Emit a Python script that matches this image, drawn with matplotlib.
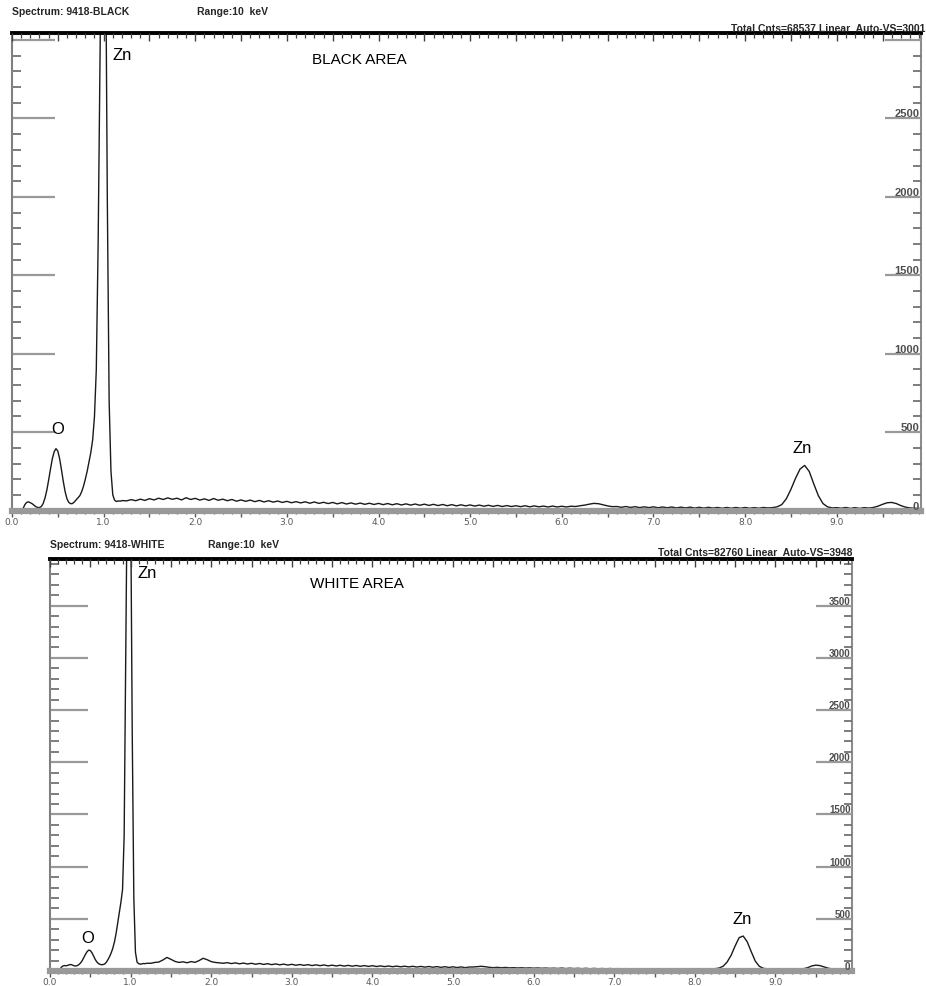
import numpy as np
import matplotlib
matplotlib.use("Agg")
import matplotlib.pyplot as plt
from matplotlib import font_manager
from matplotlib.ticker import MultipleLocator, FuncFormatter
from matplotlib.transforms import blended_transform_factory

# EDS spectra, counts per channel
# 0.02 keV channels from 0.10 keV, then 0.05 keV channels from 1.25 keV
LOW_START, LOW_STEP = 0.10, 0.02
HIGH_START, HIGH_STEP = 1.25, 0.05

black_low = [0, 12, 38, 52, 56, 50, 44, 34, 25, 20,
             19, 26, 45, 80, 130, 195, 265, 330, 375, 395,
             380, 330, 260, 185, 120, 75, 52, 44, 45, 55,
             68, 80, 95, 120, 155, 200, 250, 310, 370, 450,
             600, 900, 1700, 2900, 3900, 4500, 3800, 2000, 700, 250,
             100, 66, 58, 62, 60, 64]
black_high = [62, 70, 63, 73, 65, 76, 68, 79, 71, 81,
              72, 79, 68, 82, 71, 78, 67, 75, 65, 77,
              66, 73, 63, 71, 60, 68, 59, 67, 57, 65,
              55, 63, 54, 61, 52, 59, 50, 57, 49, 56,
              47, 55, 46, 53, 45, 52, 43, 51, 42, 49,
              41, 48, 40, 47, 39, 46, 38, 45, 37, 44,
              36, 43, 35, 42, 34, 41, 33, 40, 32, 39,
              31, 38, 30, 37, 30, 36, 29, 35, 28, 34,
              27, 33, 26, 32, 26, 31, 25, 31, 24, 30,
              24, 29, 23, 29, 23, 28, 23, 28, 26, 31,
              35, 41, 46, 44, 37, 30, 25, 26, 21, 26,
              20, 25, 19, 24, 19, 24, 18, 23, 18, 23,
              17, 22, 17, 22, 16, 21, 16, 21, 16, 20,
              15, 20, 15, 20, 15, 20, 15, 19, 15, 20,
              17, 19, 24, 38, 75, 135, 205, 265, 288, 250,
              170, 95, 45, 24, 17, 19, 15, 20, 14, 19,
              14, 19, 16, 20, 28, 40, 50, 52, 45, 32,
              22, 17, 15, 14]

white_low = [0, 12, 35, 48, 52, 50, 54, 60, 62, 56,
             50, 48, 52, 62, 78, 100, 130, 160, 185, 200,
             196, 175, 145, 112, 88, 72, 64, 60, 62, 68,
             85, 110, 140, 175, 220, 280, 360, 460, 560, 660,
             780, 1300, 3000, 4800, 5600, 4600, 2300, 700, 180, 85,
             70, 66, 68, 72, 70, 74]
white_high = [74, 82, 86, 105, 130, 112, 92, 82, 88, 79,
              90, 83, 100, 122, 108, 90, 82, 78, 74, 80,
              71, 78, 69, 76, 67, 74, 65, 72, 63, 70,
              61, 68, 59, 66, 57, 64, 55, 62, 54, 61,
              52, 59, 51, 58, 49, 56, 48, 55, 47, 54,
              46, 53, 45, 52, 44, 51, 43, 49, 42, 48,
              41, 47, 40, 46, 39, 45, 38, 44, 37, 43,
              36, 42, 35, 41, 34, 40, 33, 39, 32, 38,
              38, 42, 45, 41, 35, 32, 35, 31, 34, 30,
              32, 29, 31, 28, 30, 27, 29, 26, 28, 25,
              27, 24, 28, 23, 27, 23, 26, 22, 26, 21,
              25, 21, 24, 20, 24, 20, 23, 19, 23, 19,
              22, 18, 22, 18, 21, 17, 21, 17, 20, 17,
              20, 16, 20, 16, 19, 16, 19, 16, 18, 20,
              22, 28, 45, 85, 150, 240, 320, 335, 280, 185,
              95, 45, 26, 20, 17, 19, 15, 19, 15, 18,
              15, 18, 22, 32, 48, 56, 52, 40, 28, 20,
              17, 15, 14, 12]

black_ylabels = [0, 500, 1000, 1500, 2000, 2500]
white_ylabels = [0, 500, 1000, 1500, 2000, 2500, 3000, 3500]
xlabels = [0, 1, 2, 3, 4, 5, 6, 7, 8, 9]

names = {f.name for f in font_manager.fontManager.ttflist}
SANS = "Liberation Sans" if "Liberation Sans" in names else "DejaVu Sans"


def spectrum(low, high):
    e = np.concatenate([LOW_START + LOW_STEP * np.arange(len(low)),
                        HIGH_START + HIGH_STEP * np.arange(len(high))])
    return e, np.concatenate([low, high])


fig = plt.figure(figsize=(9.26, 9.87), dpi=100)
W, H = 926.0, 987.0


def panel(px_left, px_right, px_top, px_bottom, low, high, xmax, ymax, ylabels,
          long_left, long_right, ylab_size):
    ax = fig.add_axes([px_left / W, 1 - px_bottom / H,
                       (px_right - px_left) / W, (px_bottom - px_top) / H])
    e, c = spectrum(low, high)
    ax.plot(e, c, color="0.1", lw=1.0)
    ax.set_xlim(0, xmax)
    ax.set_ylim(0, ymax)

    ax.spines["top"].set_linewidth(2.8)
    ax.spines["top"].set_color("black")
    ax.spines["bottom"].set_linewidth(4.5)
    ax.spines["bottom"].set_color("0.6")
    ax.spines["left"].set_linewidth(1.5)
    ax.spines["left"].set_color("0.5")
    ax.spines["right"].set_linewidth(1.5)
    ax.spines["right"].set_color("0.55")

    # bottom ticks + labels
    ax.xaxis.set_major_locator(MultipleLocator(0.5))
    ax.xaxis.set_minor_locator(MultipleLocator(0.1))
    ax.xaxis.set_major_formatter(FuncFormatter(
        lambda v, p: "%.1f" % v if abs(v - round(v)) < 1e-6 and round(v) in xlabels else ""))
    ax.tick_params(axis="x", which="major", direction="out", length=4, width=1.0,
                   color="0.35", pad=0.5, labelsize=6.5, labelcolor="0.35")
    ax.tick_params(axis="x", which="minor", direction="out", length=2.5, width=0.9, color="0.35")

    # left ticks
    ax.yaxis.set_major_locator(MultipleLocator(500))
    ax.yaxis.set_minor_locator(MultipleLocator(100))
    ax.tick_params(axis="y", which="major", direction="in", length=long_left, width=1.6,
                   color="0.6", labelleft=False)
    ax.tick_params(axis="y", which="minor", direction="in", length=6.5, width=1.3, color="0.45")

    # right ticks
    tr = ax.twinx()
    tr.set_ylim(0, ymax)
    tr.yaxis.set_major_locator(MultipleLocator(500))
    tr.yaxis.set_minor_locator(MultipleLocator(100))
    tr.tick_params(axis="y", which="major", direction="in", length=long_right, width=1.6,
                   color="0.6", labelright=False)
    tr.tick_params(axis="y", which="minor", direction="in", length=5.5, width=1.3, color="0.45")
    for s in tr.spines.values():
        s.set_visible(False)

    # top ticks
    tt = ax.twiny()
    tt.set_xlim(0, xmax)
    tt.xaxis.set_major_locator(MultipleLocator(0.5))
    tt.xaxis.set_minor_locator(MultipleLocator(0.1))
    tt.tick_params(axis="x", which="major", direction="in", length=6, width=1.0,
                   color="0.25", labeltop=False)
    tt.tick_params(axis="x", which="minor", direction="in", length=3.5, width=0.9, color="0.25")
    for s in tt.spines.values():
        s.set_visible(False)

    tf = blended_transform_factory(ax.transAxes, ax.transData)
    for v in ylabels:
        ax.text(0.998, v, str(v), transform=tf, ha="right", va="bottom",
                fontsize=ylab_size, fontweight="bold", color="0.3", family=SANS)
    return ax


top = panel(12, 921, 34, 511.6, black_low, black_high, 9.92, 3045, black_ylabels, 31, 26, 8)
bot = panel(50, 852, 560, 972, white_low, white_high, 9.95, 3948, white_ylabels, 27, 26, 7)

ann = dict(family=SANS, color="black")
top.text(1.10, 2910, "Zn", fontsize=12, ha="left", va="center", **ann)
top.text(3.27, 2880, "BLACK AREA", fontsize=11, ha="left", va="center", **ann)
top.text(0.50, 525, "O", fontsize=12, ha="center", va="center", **ann)
top.text(8.62, 401, "Zn", fontsize=12, ha="center", va="center", **ann)

bot.text(1.09, 3817, "Zn", fontsize=12, ha="left", va="center", **ann)
bot.text(3.23, 3721, "WHITE AREA", fontsize=11, ha="left", va="center", **ann)
bot.text(0.47, 322, "O", fontsize=12, ha="center", va="center", **ann)
bot.text(8.59, 505, "Zn", fontsize=12, ha="center", va="center", **ann)

hdr = dict(family=SANS, fontweight="bold", fontsize=7.5, color="0.15", va="center")
fig.text(12 / W, 1 - 12 / H, "Spectrum: 9418-BLACK", ha="left", **hdr)
fig.text(197 / W, 1 - 12 / H, "Range:10  keV", ha="left", **hdr)
fig.text(0.9995, 1 - 29 / H, "Total Cnts=68537 Linear  Auto-VS=3001", ha="right", **hdr)
fig.text(50 / W, 1 - 545 / H, "Spectrum: 9418-WHITE", ha="left", **hdr)
fig.text(208 / W, 1 - 545 / H, "Range:10  keV", ha="left", **hdr)
fig.text(852 / W, 1 - 553 / H, "Total Cnts=82760 Linear  Auto-VS=3948", ha="right", **hdr)

fig.savefig("out.png", dpi=100)
